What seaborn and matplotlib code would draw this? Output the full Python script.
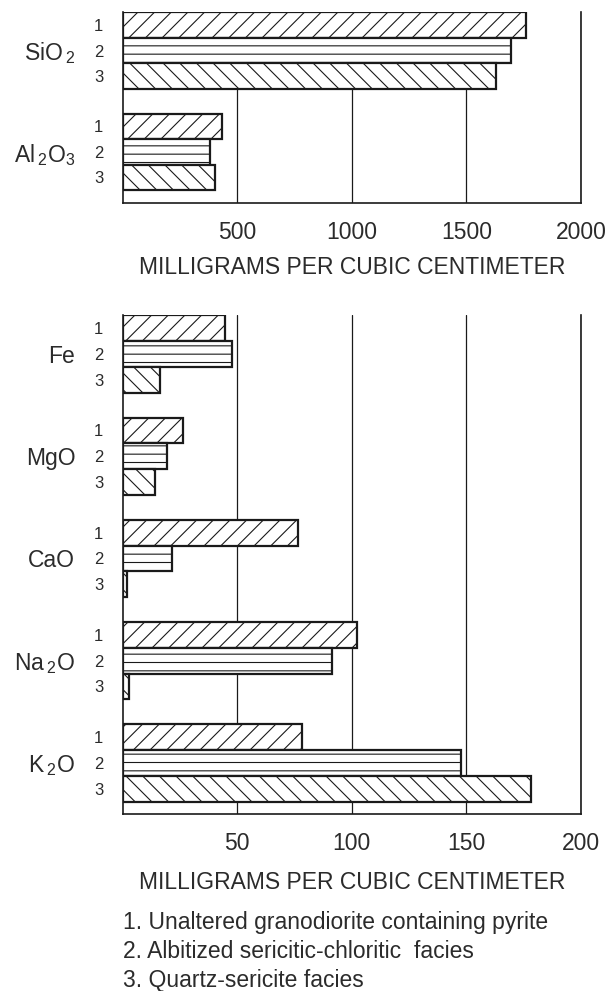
import matplotlib
matplotlib.use("Agg")
import matplotlib.pyplot as plt
import seaborn as sns
import pandas as pd
from matplotlib.ticker import FixedLocator

# ---- data ----
facies = ["1", "2", "3"]
facies_desc = ["1. Unaltered granodiorite containing pyrite",
               "2. Albitized sericitic-chloritic  facies",
               "3. Quartz-sericite facies"]

major_oxides = ["SiO$\\,_2$", "Al$\\,_2$O$_3$"]
major_unaltered = [1761, 434]
major_albitized = [1697, 382]
major_quartz = [1628, 402]
major_ticks = [500, 1000, 1500, 2000]

minor_oxides = ["Fe", "MgO", "CaO", "Na$\\,_2$O", "K$\\,_2$O"]
minor_unaltered = [44.6, 26.3, 76.4, 102.3, 78.3]
minor_albitized = [47.6, 19.2, 21.8, 91.2, 147.8]
minor_quartz = [16.3, 14.2, 2.0, 3.0, 178.1]
minor_ticks = [50, 100, 150, 200]

xlabel = "MILLIGRAMS PER CUBIC CENTIMETER"

sns.set_style("white")
FONT = "Liberation Sans"
plt.rcParams["font.family"] = [FONT, "DejaVu Sans"]
plt.rcParams["mathtext.fontset"] = "custom"
plt.rcParams["mathtext.rm"] = FONT
plt.rcParams["mathtext.it"] = FONT + ":italic"
plt.rcParams["mathtext.bf"] = FONT + ":bold"
plt.rcParams["mathtext.default"] = "rm"
plt.rcParams["hatch.linewidth"] = 0.8
plt.rcParams["hatch.color"] = "#1a1a1a"

TXT = "#2b2b2b"
LINE = "#1a1a1a"
hatches = ["//", "--", "\\\\"]
W = 0.755


def make_df(oxides, a, b, c):
    rows = []
    for f, vals in zip(facies, [a, b, c]):
        for ox, v in zip(oxides, vals):
            rows.append({"oxide": ox, "facies": f, "value": v})
    return pd.DataFrame(rows)


def panel(ax, oxides, a, b, c, xmax, ticks, lpad):
    df = make_df(oxides, a, b, c)
    sns.barplot(data=df, x="value", y="oxide", hue="facies", orient="h",
                width=W, palette=["white"] * 3, edgecolor=LINE, linewidth=1.6,
                saturation=1, legend=False, ax=ax, zorder=3)
    for cont, h in zip(ax.containers, hatches):
        for p in cont:
            p.set_hatch(h)
    n = len(oxides)
    ax.set_xlim(0, xmax)
    ax.set_ylim(n - 1 + W / 2 + 0.125, -W / 2)
    ax.set_xticks(ticks)
    ax.set_xticklabels([str(t) for t in ticks], fontsize=16.5, color=TXT)
    ax.tick_params(axis="x", length=0, pad=13)
    # major y ticks -> oxide names, minor -> facies numbers
    ax.yaxis.remove_overlapping_locs = False
    ax.set_yticks(range(n))
    ax.set_yticklabels(oxides, fontsize=16.5, color=TXT)
    centers = []
    labels = []
    for cont, f in zip(ax.containers, facies):
        for p in cont:
            centers.append(p.get_y() + p.get_height() / 2)
            labels.append(f)
    order = sorted(range(len(centers)), key=lambda i: centers[i])
    ax.yaxis.set_minor_locator(FixedLocator([centers[i] for i in order]))
    ax.set_yticklabels([labels[i] for i in order], minor=True,
                       fontsize=12, color=TXT)
    ax.tick_params(axis="y", which="major", length=0, pad=34)
    ax.tick_params(axis="y", which="minor", length=0, pad=14)
    ax.set_ylabel("")
    ax.set_xlabel(xlabel, fontsize=16.5, color=TXT, labelpad=lpad)
    ax.xaxis.grid(True, color=LINE, linewidth=0.9)
    ax.yaxis.grid(False)
    ax.set_axisbelow(True)
    for s in ["left", "right", "bottom"]:
        ax.spines[s].set_visible(True)
        ax.spines[s].set_color(LINE)
        ax.spines[s].set_linewidth(1.2)
    ax.spines["top"].set_visible(False)


fig = plt.figure(figsize=(6.08, 9.91), dpi=100)
ax1 = fig.add_axes([0.2015, 0.7955, 0.754, 0.1921])
ax2 = fig.add_axes([0.2015, 0.1783, 0.754, 0.5035])

panel(ax1, major_oxides, major_unaltered, major_albitized, major_quartz,
      2000, major_ticks, 9)
panel(ax2, minor_oxides, minor_unaltered, minor_albitized, minor_quartz,
      200, minor_ticks, 11.5)

for i, line in enumerate(facies_desc):
    fig.text(123 / 608, 1 - (922 + 29 * i) / 991, line, fontsize=16.5,
             color=TXT, ha="left", va="center")

fig.savefig("out.png", dpi=100, facecolor="white")
